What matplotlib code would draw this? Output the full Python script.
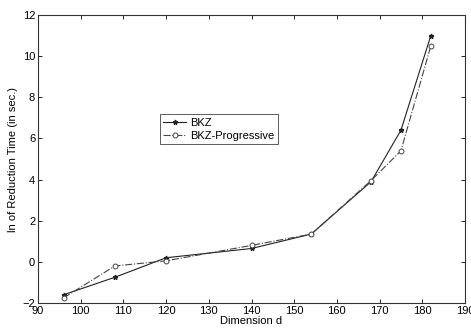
import matplotlib
matplotlib.use("Agg")
import matplotlib.pyplot as plt

plt.rcParams['font.family'] = ['Liberation Sans', 'DejaVu Sans']

dims = [96, 108, 120, 140, 154, 168, 175, 182]
bkz = [-1.6, -0.75, 0.2, 0.65, 1.35, 3.9, 6.4, 11.0]
bkz_prog = [-1.75, -0.2, 0.05, 0.8, 1.35, 3.95, 5.4, 10.5]
xticks = [90, 100, 110, 120, 130, 140, 150, 160, 170, 180, 190]
yticks = [-2, 0, 2, 4, 6, 8, 10, 12]

fig = plt.figure(figsize=(4.71, 3.29), dpi=100)
ax = fig.add_axes([38/471, 26/329, 427/471, 288/329])

ax.plot(dims, bkz, color='#222222', lw=0.8, ls='-', marker='*', ms=3.5, label='BKZ')
ax.plot(dims, bkz_prog, color='#444444', lw=0.8, ls='-.', marker='o', ms=3.5,
        mfc='white', mec='#444444', mew=0.7, label='BKZ-Progressive')

ax.set_xlim(90, 190)
ax.set_ylim(-2, 12)
ax.set_xticks(xticks)
ax.set_yticks(yticks)
ax.tick_params(direction='in', length=3, width=0.6, labelsize=8, top=True, right=True, pad=2)
for s in ax.spines.values():
    s.set_linewidth(0.8)
    s.set_color('#333333')

ax.set_xlabel('Dimension d', fontsize=8, labelpad=0)
ax.set_ylabel('ln of Reduction Time (in sec.)', fontsize=8, labelpad=3)

leg = ax.legend(loc='upper left', bbox_to_anchor=(0.286, 0.655), fontsize=8,
                frameon=True, fancybox=False, edgecolor='#333333', borderpad=0.3,
                handlelength=2.0, labelspacing=0.3, borderaxespad=0, handletextpad=0.4)
leg.get_frame().set_linewidth(0.7)

fig.savefig('out.png', dpi=100)
